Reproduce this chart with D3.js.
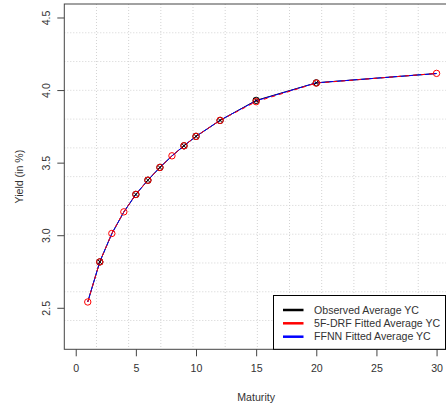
<!DOCTYPE html>
<html><head><meta charset="utf-8">
<script src="https://cdn.jsdelivr.net/npm/d3@7"></script>
<style>body{margin:0;background:#fff}svg{display:block}text{font-family:"Liberation Sans",Arial,sans-serif;fill:#333}</style>
</head><body><svg id="c" width="446" height="408"></svg>
<script>
const maturities = [1,2,3,4,5,6,7,8,9,10,12,15,20,30];
const observed = [2.541,2.816,3.011,3.160,3.281,3.379,3.467,3.546,3.616,3.681,3.791,3.929,4.050,4.114];
const observedMarked = [2,5,6,7,9,10,12,15,20];
const drfFitted = [2.540,2.816,3.012,3.161,3.281,3.379,3.467,3.547,3.616,3.681,3.791,3.920,4.048,4.115];
const ffnnFitted = [2.540,2.818,3.010,3.160,3.282,3.380,3.468,3.546,3.617,3.681,3.792,3.926,4.050,4.114];
const xTicks = [0,5,10,15,20,25,30];
const yTicks = [2.5,3.0,3.5,4.0,4.5];
const legendLabels = ["Observed Average YC","5F-DRF Fitted Average YC","FFNN Fitted Average YC"];
const legendColors = ["#000","#ff0000","#0000ff"];

const svg = d3.select("#c");
const L=64.3, R=450.4, T=4, B=349.3;
const x = d3.scaleLinear().domain([-0.95,31.15]).range([L,R]);
const y = d3.scaleLinear().domain([2.214,4.593]).range([B,T]);

// grid (equal divisions, 12 each)
const nx=12, ny=12;
const gx = d3.range(1,nx).map(k=>x.domain()[0]+k*(x.domain()[1]-x.domain()[0])/nx);
const gy = d3.range(1,ny).map(k=>y.domain()[0]+k*(y.domain()[1]-y.domain()[0])/ny);
const g = svg.append("g").attr("stroke","#d3d3d3").attr("stroke-dasharray","1,2").attr("stroke-width",1);
g.selectAll(".gx").data(gx).join("line").attr("x1",d=>x(d)).attr("x2",d=>x(d)).attr("y1",T).attr("y2",B);
g.selectAll(".gy").data(gy).join("line").attr("y1",d=>y(d)).attr("y2",d=>y(d)).attr("x1",L).attr("x2",R);

// lines
const obsData = maturities.map((m,i)=>[m,observed[i]]);
const obsMarks = obsData.filter(d=>observedMarked.includes(d[0]));
const drfData = maturities.map((m,i)=>[m,drfFitted[i]]);
const ffData = maturities.map((m,i)=>[m,ffnnFitted[i]]);
const line = d3.line().x(d=>x(d[0])).y(d=>y(d[1]));
svg.append("path").attr("d",line(obsData)).attr("fill","none").attr("stroke","#000").attr("stroke-width",1);
svg.append("path").attr("d",line(ffData)).attr("fill","none").attr("stroke","#0000ff").attr("stroke-width",1);
svg.append("path").attr("d",line(drfData)).attr("fill","none").attr("stroke","#ff0000").attr("stroke-width",1).attr("stroke-dasharray","4,4");

// observed markers: circle with x
const om = svg.append("g").attr("stroke","#000").attr("fill","none").attr("stroke-width",1);
obsMarks.forEach(d=>{
  const cx=x(d[0]), cy=y(d[1]), r=3.2;
  om.append("circle").attr("cx",cx).attr("cy",cy).attr("r",r);
  const a=r*0.707;
  om.append("path").attr("d",`M${cx-a},${cy-a}L${cx+a},${cy+a}M${cx-a},${cy+a}L${cx+a},${cy-a}`);
});
// fitted markers: red open circles
svg.append("g").selectAll("circle").data(drfData).join("circle")
  .attr("cx",d=>x(d[0])).attr("cy",d=>y(d[1])).attr("r",3.2)
  .attr("fill","none").attr("stroke","#ff0000").attr("stroke-width",1);

// axes
const xa = svg.append("g").attr("transform",`translate(0,${B})`)
  .call(d3.axisBottom(x).tickValues(xTicks).tickSize(7).tickPadding(8).tickFormat(d3.format("d")));
const ya = svg.append("g").attr("transform",`translate(${L},0)`)
  .call(d3.axisLeft(y).tickValues(yTicks).tickSize(7).tickPadding(0).tickFormat(d3.format(".1f")));
[xa,ya].forEach(a=>{a.select(".domain").remove();a.selectAll("line").attr("stroke","#444");a.selectAll("text").style("font-size","10.6px").attr("fill","#333").style("font-family","'Liberation Sans',Arial,sans-serif");});
xa.selectAll("text").attr("dy","0.71em");
ya.selectAll("text").attr("text-anchor","middle").attr("x",0).attr("dy",0)
  .attr("transform",d=>`translate(${45.7-L+4},${0}) rotate(-90)`);

// frame
svg.append("rect").attr("x",L).attr("y",T).attr("width",R-L).attr("height",B-T).attr("fill","none").attr("stroke","#444").attr("stroke-width",1);

// axis titles
svg.append("text").attr("x",(x(0)+x(30))/2).attr("y",401).attr("text-anchor","middle").style("font-size","10.6px").text("Maturity");
svg.append("text").attr("transform",`translate(23,${(T+B)/2}) rotate(-90)`).attr("text-anchor","middle").style("font-size","10.6px").text("Yield (in %)");

// legend
const lg = svg.append("g");
lg.append("rect").attr("x",273.5).attr("y",295.5).attr("width",172).attr("height",B-295.5).attr("fill","#fff").attr("stroke","#000").attr("stroke-width",1);
const rows=[310,323.3,336.7];
legendLabels.forEach((t,i)=>{
  lg.append("line").attr("x1",283).attr("x2",303.5).attr("y1",rows[i]).attr("y2",rows[i]).attr("stroke",legendColors[i]).attr("stroke-width",2.5);
  lg.append("text").attr("x",314).attr("y",rows[i]).attr("dy","0.35em").style("font-size","10.6px").text(t);
});
</script></body></html>
